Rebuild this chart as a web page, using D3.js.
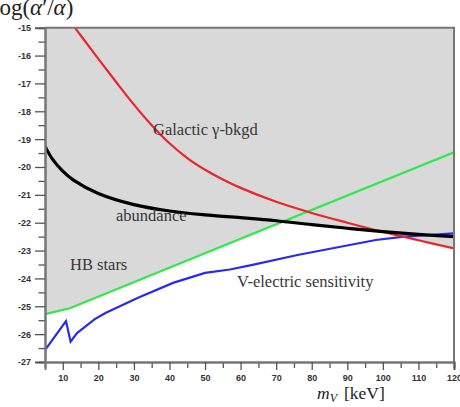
<!DOCTYPE html>
<html>
<head>
<meta charset="utf-8">
<script src="https://cdn.jsdelivr.net/npm/d3@7"></script>
<style>
  body { margin: 0; background: #fff; }
  svg { display: block; }
  .tick text { font-family: "Liberation Sans", Arial, sans-serif; font-weight: bold; font-size: 9px; fill: #333; }
  .lbl { font-family: "Liberation Serif", "DejaVu Serif", serif; font-size: 16.5px; fill: #363636; }
</style>
</head>
<body>
<svg id="chart" width="460" height="407"></svg>
<script>
// galactic gamma-ray background bound (red)
const galacticMass = [13.4, 15, 20, 25, 30, 35, 40, 45, 50, 55, 60, 70, 80, 90, 100, 110, 120];
const galacticLog = [-15, -15.27, -16.12, -16.95, -17.76, -18.5, -19.15, -19.68, -20.1, -20.45, -20.75, -21.25, -21.65, -22.0, -22.33, -22.63, -22.92];

// abundance (black)
const abundanceMass = [5, 7, 10, 13, 20, 30, 40, 50, 60, 70, 80, 90, 100, 110, 120];
const abundanceLog = [-19.25, -19.7, -20.15, -20.47, -20.95, -21.35, -21.58, -21.72, -21.82, -21.93, -22.07, -22.2, -22.32, -22.42, -22.5];

// HB stars (green)
const hbMass = [5, 12, 62.6, 120];
const hbLog = [-25.28, -25.07, -22.44, -19.47];

// V-electric sensitivity (blue)
const sensMass = [5, 10.9, 12.2, 14, 19, 22, 31, 41, 50, 57, 63, 76, 98, 106, 120];
const sensLog = [-26.57, -25.53, -26.27, -25.96, -25.46, -25.24, -24.7, -24.16, -23.8, -23.68, -23.52, -23.16, -22.62, -22.5, -22.38];

const xMajor = [10, 20, 30, 40, 50, 60, 70, 80, 90, 100, 110, 120];
const xMinor = [15, 25, 35, 45, 55, 65, 75, 85, 95, 105, 115];
const yMajor = [-15, -16, -17, -18, -19, -20, -21, -22, -23, -24, -25, -26, -27];
const yMinor = [-15.5, -16.5, -17.5, -18.5, -19.5, -20.5, -21.5, -22.5, -23.5, -24.5, -25.5, -26.5];

const svg = d3.select("#chart");
const x = d3.scaleLinear().domain([5, 120]).range([45, 454]);
const y = d3.scaleLinear().domain([-27, -15]).range([362, 27.7]);

const pts = (xs, ys) => xs.map((d, i) => [d, ys[i]]);
const galactic = pts(galacticMass, galacticLog);
const abundance = pts(abundanceMass, abundanceLog);
const hb = pts(hbMass, hbLog);
const sens = pts(sensMass, sensLog);

let defs = svg.append("defs");
defs.append("clipPath").attr("id", "plotClip")
  .append("rect")
  .attr("x", x(5)).attr("y", y(-15))
  .attr("width", x(120) - x(5)).attr("height", y(-27) - y(-15));

let underArea = d3.area()
  .x((d) => x(d[0]))
  .y0(y(-27))
  .y1((d) => y(d[1]))
  .curve(d3.curveCatmullRom);

// region below the red curve (left of its entry point everything counts)
let redClip = defs.append("clipPath").attr("id", "belowRed");
redClip.append("path").attr("d", underArea(galactic));
redClip.append("rect")
  .attr("x", x(5)).attr("y", y(-15))
  .attr("width", x(galacticMass[0]) - x(5) + 1)
  .attr("height", y(-27) - y(-15));
defs.append("clipPath").attr("id", "belowBlack")
  .append("path").attr("d", underArea(abundance));

// grey excluded region, white where allowed
svg.append("rect")
  .attr("x", x(5)).attr("y", y(-15))
  .attr("width", x(120) - x(5)).attr("height", y(-27) - y(-15))
  .attr("fill", "#d9d9d9");

svg.append("g").attr("clip-path", "url(#belowRed)")
  .append("g").attr("clip-path", "url(#belowBlack)")
  .append("path")
  .attr("d", d3.area().x((d) => x(d[0])).y0(y(-27) + 1).y1((d) => y(d[1]))(hb))
  .attr("fill", "#fff");

let plot = svg.append("g").attr("clip-path", "url(#plotClip)");
let smooth = d3.line().x((d) => x(d[0])).y((d) => y(d[1])).curve(d3.curveCatmullRom);
let straight = d3.line().x((d) => x(d[0])).y((d) => y(d[1]));

plot.append("path").attr("d", straight(hb))
  .attr("fill", "none").attr("stroke", "#2ee84c").attr("stroke-width", 2.2);
plot.append("path").attr("d", straight(sens))
  .attr("fill", "none").attr("stroke", "#2a2aef").attr("stroke-width", 2.2);
plot.append("path").attr("d", smooth(galactic))
  .attr("fill", "none").attr("stroke", "#e8262c").attr("stroke-width", 2.2);
plot.append("path").attr("d", smooth(abundance))
  .attr("fill", "none").attr("stroke", "#000").attr("stroke-width", 3.2);

// frame top / right
svg.append("path")
  .attr("d", `M${x(5)},${y(-15)}H${x(120)}V${y(-27)}`)
  .attr("fill", "none").attr("stroke", "#777").attr("stroke-width", 2);

// axes
let drawAxis = (axis, tf) => {
  let g = svg.append("g").attr("transform", tf).call(axis);
  g.selectAll("path.domain").attr("stroke", "#777").attr("stroke-width", 2);
  g.selectAll(".tick line").attr("stroke", "#555").attr("stroke-width", 1.3);
  return g;
};

drawAxis(d3.axisLeft(y).tickValues(yMinor).tickSize(6.5).tickFormat(""), `translate(${x(5)},0)`);
drawAxis(d3.axisLeft(y).tickValues(yMajor).tickSize(10).tickPadding(4).tickFormat((d) => String(d)), `translate(${x(5)},0)`);
drawAxis(d3.axisBottom(x).tickValues(xMinor).tickSize(6).tickFormat(""), `translate(0,${y(-27)})`);
drawAxis(d3.axisBottom(x).tickValues(xMajor).tickSize(8).tickPadding(5).tickFormat((d) => String(d)), `translate(0,${y(-27)})`);

// curve labels
svg.append("text").attr("class", "lbl").attr("x", 153).attr("y", 135).text("Galactic γ-bkgd");
svg.append("text").attr("class", "lbl").attr("x", 116).attr("y", 221).text("abundance");
svg.append("text").attr("class", "lbl").attr("x", 70).attr("y", 270).text("HB stars");
svg.append("text").attr("class", "lbl").attr("x", 237).attr("y", 287).text("V-electric sensitivity");

// axis titles
let yTitle = svg.append("text")
  .attr("x", -7).attr("y", 15)
  .style("font-family", "'Liberation Serif', serif").style("font-size", "23px").attr("fill", "#222");
yTitle.append("tspan").text("log(");
yTitle.append("tspan").style("font-style", "italic").text("α");
yTitle.append("tspan").text("′/");
yTitle.append("tspan").style("font-style", "italic").text("α");
yTitle.append("tspan").text(")");

let xTitle = svg.append("text")
  .attr("x", 317).attr("y", 399)
  .style("font-family", "'Liberation Serif', serif").style("font-size", "17.5px").attr("fill", "#222");
xTitle.append("tspan").style("font-style", "italic").text("m");
xTitle.append("tspan").style("font-style", "italic").style("font-size", "12px").attr("dy", 3).text("V");
xTitle.append("tspan").attr("dy", -3).attr("dx", 7).text("[keV]");
</script>
</body>
</html>
